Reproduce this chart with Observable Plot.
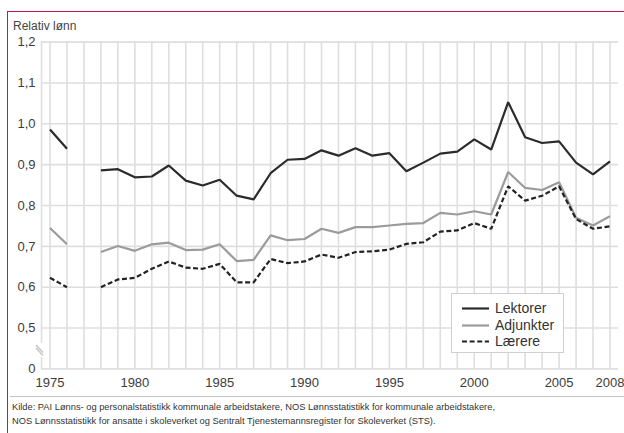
<!DOCTYPE html>
<html>
<head>
<meta charset="utf-8">
<script src="https://cdn.jsdelivr.net/npm/d3@7"></script>
<script src="https://cdn.jsdelivr.net/npm/@observablehq/plot@0.6"></script>
<style>
  html, body { margin: 0; padding: 0; background: #fff; }
  #wrap { position: relative; width: 624px; height: 433px; overflow: hidden; background: #fff;
          font-family: "Liberation Sans", Arial, Helvetica, sans-serif; }
  #frame { position: absolute; left: 7px; top: 11px; width: 700px; height: 500px;
           border-top: 1.6px solid #c2185b; border-left: 1.6px solid #c2185b; }
  #chart { position: absolute; left: 0; top: 0; }
  #ylab { position: absolute; left: 13px; top: 19px; font-size: 12px; color: #444; }
  #sep { position: absolute; left: 10px; top: 396px; width: 620px; height: 0; border-top: 1.5px solid #c4c4c4; }
  #cap { position: absolute; left: 12px; top: 401px; font-size: 9.3px; line-height: 13.5px; color: #333; white-space: nowrap; }
  #legend { position: absolute; left: 451px; top: 293px; width: 113px; height: 60px; background: #fff;
            border: 1px solid #cfcfcf; box-sizing: border-box; }
  .lrow { position: absolute; left: 0; height: 16px; font-size: 14px; color: #333; line-height: 16px; }
  .lrow svg { position: absolute; left: 10px; top: 7px; }
  .lrow span { position: absolute; left: 43px; top: 0; }
  #brk { position: absolute; left: 0; top: 0; }
</style>
</head>
<body>
<div id="wrap">
  <div id="frame"></div>
  <div id="chart"></div>
  <div id="ylab">Relativ lønn</div>
  <div id="legend"></div>
  <div id="sep"></div>
  <div id="cap">Kilde: PAI Lønns- og personalstatistikk kommunale arbeidstakere, NOS Lønnsstatistikk for kommunale arbeidstakere,<br>NOS Lønnsstatistikk for ansatte i skoleverket og Sentralt Tjenestemannsregister for Skoleverket (STS).</div>
</div>
<script>
// ---- data ----
const years = [1975,1976,1977,1978,1979,1980,1981,1982,1983,1984,1985,1986,1987,1988,1989,1990,1991,
               1992,1993,1994,1995,1996,1997,1998,1999,2000,2001,2002,2003,2004,2005,2006,2007,2008];
const lektorer = [0.986,0.939,null,0.886,0.889,0.869,0.871,0.898,0.861,0.849,0.863,0.824,0.815,0.879,0.912,0.914,0.935,
                  0.922,0.940,0.922,0.928,0.884,0.905,0.927,0.932,0.962,0.937,1.053,0.967,0.953,0.957,0.905,0.876,0.908];
const adjunkter = [0.745,0.705,null,0.686,0.701,0.689,0.705,0.709,0.691,0.692,0.705,0.664,0.667,0.727,0.715,0.718,0.743,
                   0.733,0.747,0.747,0.751,0.755,0.757,0.782,0.778,0.786,0.778,0.882,0.843,0.838,0.857,0.770,0.751,0.774];
const laerere = [0.623,0.600,null,0.600,0.619,0.623,0.645,0.663,0.648,0.645,0.657,0.612,0.612,0.669,0.659,0.663,0.680,
                 0.672,0.686,0.688,0.692,0.706,0.710,0.736,0.739,0.757,0.743,0.847,0.812,0.824,0.847,0.767,0.743,0.749];
const seriesNames = ["Lektorer","Adjunkter","Lærere"];
const xTicks = [1975,1980,1985,1990,1995,2000,2005,2008];
const yTicks = [0.4,0.5,0.6,0.7,0.8,0.9,1.0,1.1,1.2];
const yTickLabels = ["0","0,5","0,6","0,7","0,8","0,9","1,0","1,1","1,2"];

// ---- styles ----
const styles = {
  "Lektorer": {stroke: "#2b2b2b", dash: null},
  "Adjunkter": {stroke: "#9b9b9b", dash: null},
  "Lærere": {stroke: "#232323", dash: "5,2.6"}
};
const seriesValues = [lektorer, adjunkter, laerere];
const rows = [];
seriesNames.forEach((name, i) => years.forEach((yr, j) => rows.push({series: name, year: yr, value: seriesValues[i][j]})));

const grid = "#dedede";
const chart = Plot.plot({
  width: 624, height: 395,
  marginLeft: 41, marginBottom: 27, marginTop: 30, marginRight: 6,
  x: {domain: [1975, 2008], range: [49.5, 609.5]},
  y: {domain: [0.4, 1.2], range: [368.4, 41.6]},
  style: {fontFamily: '"Liberation Sans", Arial, Helvetica, sans-serif', fontSize: "13px", color: "#3c3c3c", background: "transparent", overflow: "visible"},
  marks: [
    Plot.ruleX(years, {x: d => d, y1: 0.4, y2: 1.2, stroke: grid, strokeWidth: 1.6}),
    Plot.ruleX([1974.5], {x: d => d, y1: 0.4, y2: 1.2, stroke: grid, strokeWidth: 1.6}),
    Plot.ruleY(yTicks, {y: d => d, x1: 1974.5, x2: 2008.5, stroke: grid, strokeWidth: 1.6}),
    ...seriesNames.map(name => Plot.line(rows.filter(r => r.series === name), {
      x: "year", y: "value",
      stroke: styles[name].stroke, strokeWidth: 2.2,
      strokeDasharray: styles[name].dash || undefined,
      strokeLinejoin: "miter", strokeLinecap: "butt"
    })),
    Plot.axisX({ticks: xTicks, tickFormat: d => String(d), tickSize: 0, tickPadding: 9, label: null, anchor: "bottom"}),
    Plot.axisY({ticks: yTicks, tickFormat: d => yTickLabels[yTicks.indexOf(d)], tickSize: 0, tickPadding: 6, label: null, anchor: "left"})
  ]
});
document.getElementById("chart").appendChild(chart);

// axis break marker
const ns = "http://www.w3.org/2000/svg";
const brk = document.createElementNS(ns, "svg");
brk.setAttribute("id", "brk"); brk.setAttribute("width", 624); brk.setAttribute("height", 433);
brk.innerHTML = '<rect x="36" y="343" width="10" height="14" fill="#fff"/>' +
  '<line x1="36" y1="345" x2="43" y2="352.5" stroke="#c8c8c8" stroke-width="1.6"/>' +
  '<line x1="36" y1="348" x2="43" y2="355.5" stroke="#c8c8c8" stroke-width="1.6"/>';
document.getElementById("wrap").insertBefore(brk, document.getElementById("ylab"));

// legend
const legend = document.getElementById("legend");
seriesNames.forEach((name, i) => {
  const row = document.createElement("div");
  row.className = "lrow";
  row.style.top = (6 + i * 16.5) + "px";
  row.style.width = "100%";
  const s = styles[name];
  row.innerHTML = '<svg width="28" height="3"><line x1="0" y1="1.5" x2="27" y2="1.5" stroke="' + s.stroke +
    '" stroke-width="2.2"' + (s.dash ? ' stroke-dasharray="' + s.dash + '"' : '') + '/></svg><span>' + name + '</span>';
  legend.appendChild(row);
});
</script>
</body>
</html>
